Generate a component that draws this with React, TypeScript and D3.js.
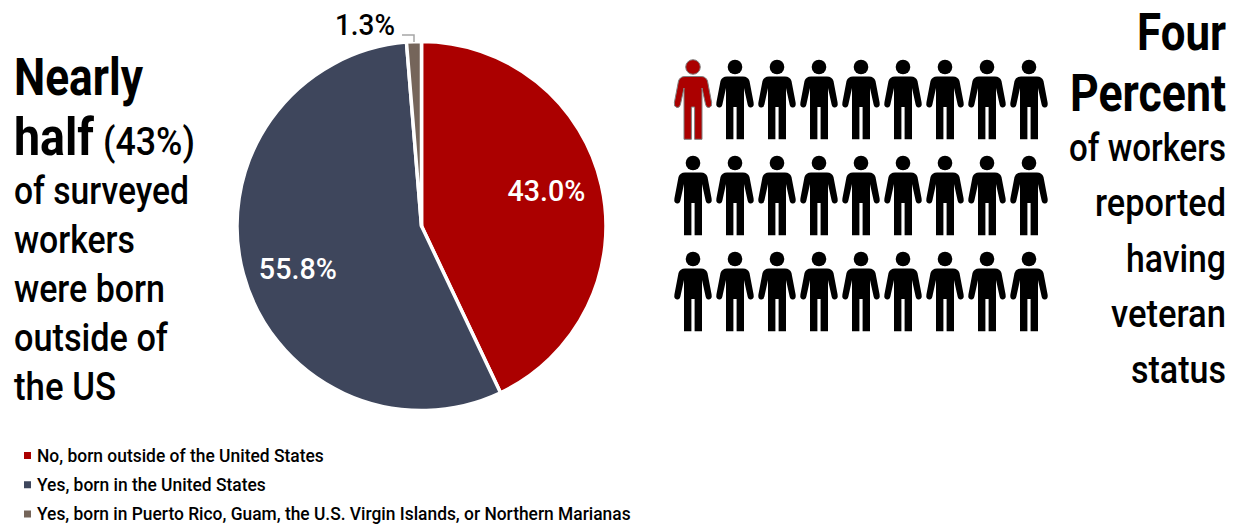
import React from "react";
import * as d3 from "d3";

const categories = [
  "No, born outside of the United States",
  "Yes, born in the United States",
  "Yes, born in Puerto Rico, Guam, the U.S. Virgin Islands, or Northern Marianas",
];
const values = [43.0, 55.8, 1.3];
const colors = ["#AB0000", "#3E465C", "#75655A"];
const personRows = [0, 1, 2];
const personCols = [0, 1, 2, 3, 4, 5, 6, 7, 8];
const legendWidths = [287, 229, 594];
const FONT = "Roboto,'Open Sans',sans-serif";

const leftText = [
  { t: "Nearly", b: true, w: 129, x: 14, y: 95, size: 51 },
  { t: "half", b: true, w: 80, x: 14, y: 155, size: 51 },
  { t: "(43%)", b: false, w: 92, x: 103, y: 155, size: 39 },
  { t: "of surveyed", b: false, w: 175, x: 14, y: 204, size: 39 },
  { t: "workers", b: false, w: 121, x: 14, y: 253, size: 39 },
  { t: "were born", b: false, w: 151, x: 14, y: 302, size: 39 },
  { t: "outside of", b: false, w: 154, x: 14, y: 351, size: 39 },
  { t: "the US", b: false, w: 102, x: 14, y: 400, size: 39 },
];
const rightText = [
  { t: "Four", b: true, w: 89, y: 50, size: 51 },
  { t: "Percent", b: true, w: 156, y: 111, size: 51 },
  { t: "of workers", b: false, w: 157, y: 161, size: 39 },
  { t: "reported", b: false, w: 131, y: 216, size: 39 },
  { t: "having", b: false, w: 100, y: 272, size: 39 },
  { t: "veteran", b: false, w: 115, y: 327, size: 39 },
  { t: "status", b: false, w: 95, y: 383, size: 39 },
];

const person =
  "M-8,9.5 L8,9.5 Q13,9.5 14.5,14 L18.6,35.5 Q19.3,40 16,40.5 Q13.4,41 12.6,37.5 L9,21 L9,72.3 L1.6,72.3 L1.6,40 L-1.6,40 L-1.6,72.3 L-9,72.3 L-9,21 L-12.6,37.5 Q-13.4,41 -16,40.5 Q-19.3,40 -18.6,35.5 L-14.5,14 Q-13,9.5 -8,9.5 Z";

const ctx = document.createElement("canvas").getContext("2d") as CanvasRenderingContext2D;

function Fit({ t, x, y, w, size, weight, fill = "#000", anchorEnd = false }: any) {
  ctx.font = `${weight} ${size}px Roboto`;
  const natural = ctx.measureText(t).width || w;
  const sx = w / natural;
  return (
    <text
      transform={`translate(${x},${y}) scale(${sx},1)`}
      textAnchor={anchorEnd ? "end" : "start"}
      fontSize={size}
      fontWeight={weight}
      fill={fill}
    >
      {t}
    </text>
  );
}

export default function App() {
  const cx = 421.5, cy = 226, r = 184.5;
  const pie = d3.pie<number>().sort(null)(values);
  const arc = d3.arc<d3.PieArcDatum<number>>().innerRadius(0).outerRadius(r);
  const xPerson = d3.scaleLinear().domain([0, 8]).range([693, 1029]);
  const yPerson = d3.scalePoint<number>().domain(personRows).range([67, 259]);
  const labelArc = d3.arc<d3.PieArcDatum<number>>().innerRadius(128).outerRadius(128);
  const legendY = d3.scalePoint<string>().domain(categories).range([461.5, 520]);
  const labelDy = [3, 20];

  return (
    <svg width={1237} height={525} style={{ position: "absolute", left: 0, top: 0, background: "#fff" }} fontFamily={FONT}>
      {leftText.map((l, i) => (
        <Fit key={i} t={l.t} x={l.x} y={l.y} w={l.w} size={l.size} weight={l.b ? 700 : 500} />
      ))}
      {rightText.map((l, i) => (
        <Fit key={i} t={l.t} x={1226} y={l.y} w={l.w} size={l.size} weight={l.b ? 700 : 500} anchorEnd />
      ))}
      <g transform={`translate(${cx},${cy})`}>
        {pie.map((d, i) => (
          <path key={i} d={arc(d) as string} fill={colors[i]} stroke="#fff" strokeWidth={3.5} strokeLinejoin="round" />
        ))}
        {[0, 1].map((i) => {
          const [lx, ly] = labelArc.centroid(pie[i]);
          return (
            <Fit key={i} t={values[i].toFixed(1) + "%"} x={lx - 39} y={ly + labelDy[i]} w={78} size={30} weight={500} fill="#fff" />
          );
        })}
      </g>
      <Fit t={values[2].toFixed(1) + "%"} x={335} y={35} w={60} size={30} weight={500} />
      <path d="M402,35 L414,35 L414,42" fill="none" stroke="#A6A6A6" strokeWidth={1.5} />
      {personRows.map((row) =>
        personCols.map((col) => {
          const red = row === 0 && col === 0;
          const fill = red ? colors[0] : "#000";
          const stroke = red ? "#808080" : "none";
          return (
            <g key={`${row}-${col}`} transform={`translate(${xPerson(col)},${yPerson(row)})`}>
              <circle r={7.3} fill={fill} stroke={stroke} strokeWidth={1} />
              <path d={person} fill={fill} stroke={stroke} strokeWidth={1} />
            </g>
          );
        })
      )}
      {categories.map((c, i) => (
        <g key={i}>
          <rect x={24} y={(legendY(c) as number) - 9.5} width={7} height={7} fill={colors[i]} />
          <Fit t={c} x={37} y={legendY(c)} w={legendWidths[i]} size={19} weight={500} />
        </g>
      ))}
    </svg>
  );
}
